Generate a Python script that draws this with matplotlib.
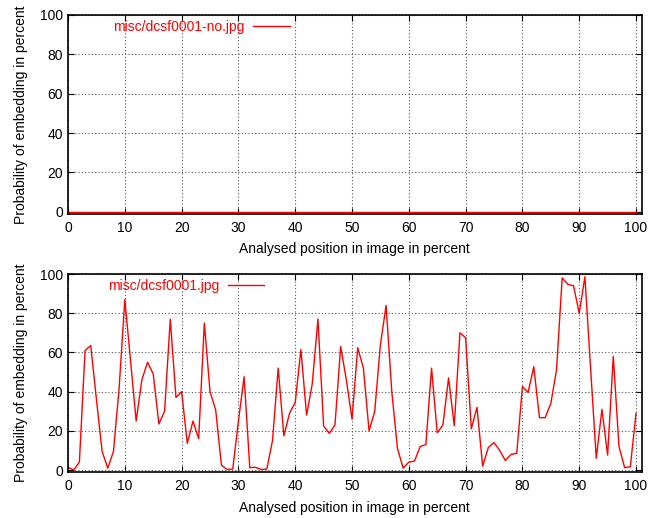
import matplotlib.pyplot as plt

plt.rcParams['font.family'] = ['Liberation Sans', 'DejaVu Sans']

positions = list(range(101))

# top panel: clean image, probability stays at zero
no_label = 'misc/dcsf0001-no.jpg'
no_values = [0] * 101

# bottom panel: embedded image
emb_label = 'misc/dcsf0001.jpg'
emb_values = [1.4, 0, 4, 61, 63.5, 36, 9.5, 1, 9.5, 42,
              87, 56, 25, 46, 55, 49, 23.5, 30, 77, 37,
              40, 13.6, 25, 16, 75, 40, 30.6, 2.5, 0.3, 0.5,
              25, 47.6, 1.2, 1.4, 0.3, 0.5, 15, 52, 17.5, 29,
              34.5, 61.5, 28, 44, 77, 22.5, 18.7, 23, 63, 46,
              26, 62.4, 52, 20, 30, 64, 84, 40, 11, 1,
              4, 4.6, 12, 13, 52, 19, 23, 47, 22.6, 70,
              67.5, 21, 32, 2, 11.5, 14, 10, 4.8, 8, 8.5,
              42.5, 39.6, 52.7, 26.7, 26.7, 34, 51, 98, 94.7, 94,
              80, 98.6, 52, 6, 31, 7.6, 58, 12, 1.2, 1.7, 29]

xticks = list(range(0, 101, 10))
yticks = list(range(0, 101, 20))

fig = plt.figure(figsize=(6.56, 5.18), dpi=100)
ax1 = fig.add_axes([0.1037, 0.5875, 0.8745, 0.3836])
ax2 = fig.add_axes([0.1037, 0.0888, 0.8745, 0.3822])

panels = [(ax1, no_values, no_label, 0.0784), (ax2, emb_values, emb_label, 0.0692)]
for ax, vals, lab, lx in panels:
    ax.plot(positions, vals, color='#ff0000', linewidth=1.0, label=lab)
    ax.set_xlim(0, 101)
    ax.set_ylim(-1, 100)
    ax.set_xticks(xticks)
    ax.set_yticks(yticks)
    ax.grid(True, linestyle=(0, (1, 2)), color='#555555', linewidth=0.8)
    ax.tick_params(direction='in', top=True, right=True, length=4,
                   labelsize=10, colors='black')
    ax.tick_params(axis='x', pad=5)
    for s in ax.spines.values():
        s.set_linewidth(1.2)
    ax.set_xlabel('Analysed position in image in percent', fontsize=10, labelpad=5.5)
    ax.set_ylabel('Probability of embedding in percent', fontsize=10, labelpad=9)
    ax.legend(loc='upper left', bbox_to_anchor=(lx, 0.975), frameon=False,
              markerfirst=False, handlelength=2.6, handletextpad=0.65,
              fontsize=10, labelcolor='#ff0000', borderaxespad=0, borderpad=0)

plt.savefig('out.png', dpi=100)
